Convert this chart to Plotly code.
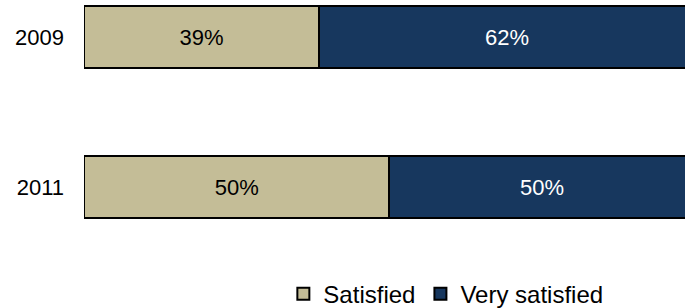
import math
import plotly.graph_objects as go

years = ["2009", "2011"]
satisfied = [38.5, 50]
very_satisfied = [61.5, 50]
series_names = ["Satisfied", "Very satisfied"]
colors = ["#C4BD97", "#17375E"]
text_colors = ["#000000", "#ffffff"]


def pct(v):
    return f"{math.floor(v + 0.5)}%"


fig = go.Figure()
for name, vals, col, tc in zip(series_names, [satisfied, very_satisfied], colors, text_colors):
    fig.add_trace(go.Bar(
        y=years, x=vals, name=name, orientation="h",
        marker=dict(color=col, line=dict(color="#000000", width=2)),
        text=[pct(v) for v in vals], textposition="inside",
        insidetextanchor="middle",
        textfont=dict(color=tc, size=22, family="Liberation Sans, Arial"),
        width=0.41,
    ))

fig.update_layout(
    width=685, height=308,
    barmode="stack",
    plot_bgcolor="white", paper_bgcolor="white",
    margin=dict(l=84, r=0, t=0, b=0, autoexpand=False),
    font=dict(family="Liberation Sans, Arial", size=22, color="#000000"),
    uniformtext=dict(minsize=22, mode="show"),
    xaxis=dict(range=[0, 98.4], visible=False, fixedrange=True, automargin=False),
    yaxis=dict(type="category", categoryarray=years, range=[1.8067, -0.2467],
               showgrid=False, showline=False, zeroline=False, ticks="",
               ticklabelstandoff=19, automargin=False, fixedrange=True,
               tickfont=dict(size=22, color="#000000")),
    showlegend=True,
    legend=dict(orientation="h", x=0.3317, xanchor="left", y=0.045, yanchor="middle",
                font=dict(size=24), itemwidth=30, traceorder="normal",
                bgcolor="rgba(0,0,0,0)"),
)

fig.write_html("out.html", post_script="document.body.style.margin='0';",
               config={"displayModeBar": False})
